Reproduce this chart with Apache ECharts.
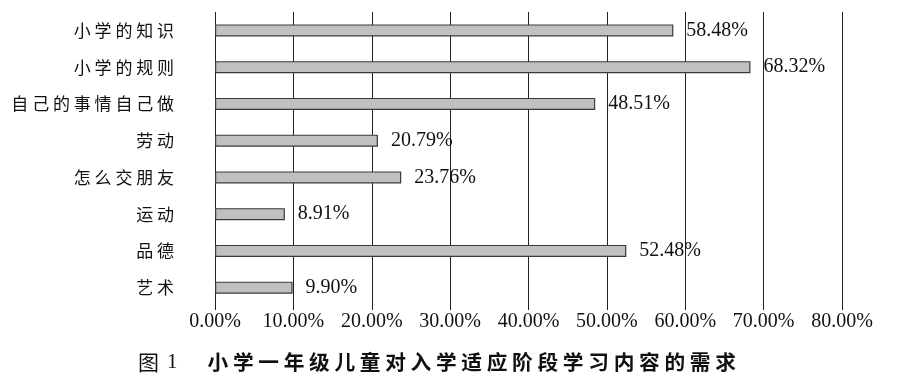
<!DOCTYPE html>
<html><head><meta charset="utf-8">
<script src="https://cdn.jsdelivr.net/npm/echarts@6/dist/echarts.min.js"></script>
<style>html,body{margin:0;padding:0;background:#fff}#c{width:900px;height:380px}</style>
</head><body><div id="c"></div>
<script>
var categories = ['小学的知识','小学的规则','自己的事情自己做','劳动','怎么交朋友','运动','品德','艺术'];
var values = [58.48, 68.32, 48.51, 20.79, 23.76, 8.91, 52.48, 9.90];
var xTicks = [0,10,20,30,40,50,60,70,80];
var titleFig = '图';
var titleNum = '1';
var titleBody = '小学一年级儿童对入学适应阶段学习内容的需求';

function spaced(s){ return s.split('').join(' '); }

var chart = echarts.init(document.getElementById('c'));
chart.setOption({
  backgroundColor:'#fff',
  animation:false,
  title:{
    text: '{a|' + titleFig + '}{b|' + titleNum + '}{c|' + spaced(titleBody) + '}',
    left:133, top:347,
    textStyle:{
      rich:{
        a:{fontFamily:'Noto Sans CJK SC', fontWeight:'normal', fontSize:21, color:'#111'},
        b:{fontFamily:'Liberation Serif', fontWeight:'normal', fontSize:21, color:'#111', padding:[0,30,0,8]},
        c:{fontFamily:'Noto Sans CJK SC', fontWeight:'bold', fontSize:20.7, color:'#111'}
      }
    }
  },
  grid:{left:215, right:58, top:12, height:294, containLabel:false},
  xAxis:{
    type:'value', min:xTicks[0], max:xTicks[xTicks.length-1], interval:10,
    axisLine:{show:false},
    axisTick:{show:true, length:4, lineStyle:{color:'#222', width:1}},
    splitLine:{show:true, lineStyle:{color:'#222', width:1}},
    axisLabel:{margin:6, fontFamily:'Liberation Serif', fontSize:20, color:'#111',
      formatter:function(v){return v.toFixed(2)+'%';}}
  },
  yAxis:{
    type:'category', data:categories, inverse:true,
    axisLine:{show:false}, axisTick:{show:false}, splitLine:{show:false},
    axisLabel:{margin:41, fontFamily:'Noto Sans CJK SC', fontSize:17, color:'#111',
      formatter:function(v){return spaced(v);}}
  },
  series:[{
    type:'bar', data:values, barWidth:12,
    itemStyle:{color:'#c0c0c0', borderColor:'#3a3a3a', borderWidth:1.2},
    label:{show:true, position:'right', distance:13, fontFamily:'Liberation Serif', fontSize:20, color:'#111',
      formatter:function(p){return p.value.toFixed(2)+'%';}}
  }]
});
</script></body></html>
